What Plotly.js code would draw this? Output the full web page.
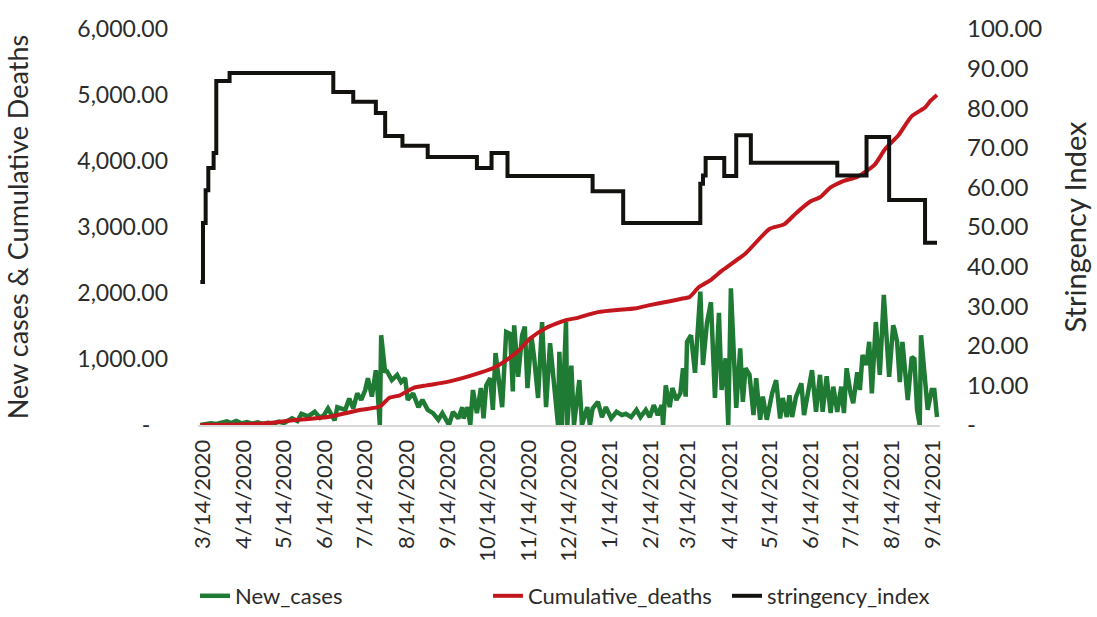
<!DOCTYPE html>
<html>
<head>
<meta charset="utf-8">
<script src="https://cdn.plot.ly/plotly-3.0.1.min.js"></script>
<style>
html,body{margin:0;padding:0;background:#fff;}
#chart{width:1097px;height:617px;}
</style>
</head>
<body>
<div id="chart"></div>
<script>
const caseDates = ['2020-03-12','2020-03-16','2020-03-20','2020-03-24','2020-03-28','2020-04-01','2020-04-04','2020-04-08','2020-04-12','2020-04-16','2020-04-20','2020-04-24','2020-04-28','2020-05-02','2020-05-06','2020-05-10','2020-05-14','2020-05-17','2020-05-20','2020-05-24','2020-05-27','2020-06-01','2020-06-06','2020-06-10','2020-06-13','2020-06-16','2020-06-21','2020-06-23','2020-06-29','2020-07-02','2020-07-05','2020-07-08','2020-07-11','2020-07-14','2020-07-16','2020-07-19','2020-07-22','2020-07-23','2020-07-25','2020-07-26','2020-07-29','2020-07-30','2020-08-03','2020-08-07','2020-08-10','2020-08-13','2020-08-15','2020-08-19','2020-08-23','2020-08-26','2020-08-30','2020-09-03','2020-09-07','2020-09-10','2020-09-15','2020-09-18','2020-09-22','2020-09-25','2020-09-26','2020-09-29','2020-10-01','2020-10-03','2020-10-06','2020-10-09','2020-10-11','2020-10-13','2020-10-16','2020-10-18','2020-10-20','2020-10-25','2020-10-28','2020-10-31','2020-11-02','2020-11-03','2020-11-06','2020-11-09','2020-11-11','2020-11-13','2020-11-16','2020-11-18','2020-11-21','2020-11-24','2020-11-27','2020-11-30','2020-12-03','2020-12-06','2020-12-07','2020-12-09','2020-12-12','2020-12-13','2020-12-16','2020-12-18','2020-12-22','2020-12-24','2020-12-28','2020-12-30','2021-01-01','2021-01-05','2021-01-08','2021-01-11','2021-01-15','2021-01-19','2021-01-23','2021-01-26','2021-01-30','2021-02-03','2021-02-06','2021-02-10','2021-02-13','2021-02-16','2021-02-19','2021-02-22','2021-02-23','2021-02-25','2021-02-28','2021-03-02','2021-03-05','2021-03-08','2021-03-10','2021-03-12','2021-03-13','2021-03-16','2021-03-19','2021-03-21','2021-03-23','2021-03-25','2021-03-28','2021-03-31','2021-04-03','2021-04-06','2021-04-08','2021-04-11','2021-04-13','2021-04-15','2021-04-17','2021-04-19','2021-04-22','2021-04-24','2021-04-26','2021-04-29','2021-05-02','2021-05-04','2021-05-07','2021-05-09','2021-05-12','2021-05-16','2021-05-19','2021-05-22','2021-05-24','2021-05-27','2021-05-29','2021-05-31','2021-06-03','2021-06-07','2021-06-09','2021-06-12','2021-06-15','2021-06-18','2021-06-21','2021-06-23','2021-06-26','2021-06-29','2021-07-01','2021-07-04','2021-07-07','2021-07-09','2021-07-11','2021-07-14','2021-07-16','2021-07-19','2021-07-21','2021-07-23','2021-07-26','2021-07-28','2021-07-30','2021-08-02','2021-08-05','2021-08-08','2021-08-10','2021-08-12','2021-08-15','2021-08-16','2021-08-18','2021-08-20','2021-08-22','2021-08-24','2021-08-26','2021-08-29','2021-08-31','2021-09-02','2021-09-04','2021-09-05','2021-09-08','2021-09-10','2021-09-13','2021-09-15','2021-09-17'];
const newCases = [0,10,25,15,40,55,30,60,25,45,20,40,15,35,20,50,30,70,100,60,170,130,200,110,150,250,70,270,230,400,250,480,380,530,710,430,830,600,0,1360,790,830,680,760,650,710,380,480,270,380,230,180,80,180,0,200,100,270,100,270,0,530,180,560,100,600,710,230,1090,270,1410,1380,510,1510,730,1360,1490,560,1340,1030,410,1560,270,1240,680,0,1110,0,1560,0,900,0,680,0,270,0,250,350,120,270,100,200,150,170,120,230,120,230,120,300,150,300,0,600,270,560,380,480,860,430,1260,1360,790,1550,2020,910,1550,1860,410,1700,530,1010,0,2070,980,260,1160,350,860,760,150,710,80,430,80,480,680,100,410,120,450,120,430,630,150,480,830,200,760,200,740,180,580,200,580,180,860,480,330,800,530,1060,910,1260,480,1560,760,1970,1240,730,1510,1450,1260,650,1260,830,380,1030,1000,230,0,1360,680,230,530,530,120];

const deathDates = ['2020-03-12','2020-04-14','2020-05-03','2020-05-22','2020-06-16','2020-07-11','2020-07-25','2020-08-01','2020-08-09','2020-08-19','2020-08-29','2020-09-13','2020-09-25','2020-10-08','2020-10-18','2020-10-28','2020-11-07','2020-11-15','2020-11-27','2020-12-12','2020-12-20','2021-01-05','2021-02-03','2021-02-14','2021-02-24','2021-03-11','2021-03-15','2021-03-22','2021-03-31','2021-04-09','2021-04-26','2021-05-14','2021-05-25','2021-06-03','2021-06-14','2021-06-21','2021-06-29','2021-07-09','2021-07-19','2021-08-01','2021-08-09','2021-08-19','2021-08-29','2021-09-08','2021-09-12','2021-09-17'];
const cumulativeDeaths = [0,10,30,75,120,230,280,410,450,560,600,650,710,790,860,980,1140,1310,1470,1590,1620,1710,1770,1820,1860,1920,1940,2090,2200,2350,2600,2970,3040,3210,3390,3450,3600,3700,3760,3940,4180,4390,4680,4810,4910,5000];

const stringencyDates = ['2020-03-12','2020-03-14','2020-03-16','2020-03-18','2020-03-22','2020-03-24','2020-04-03','2020-06-20','2020-07-05','2020-07-22','2020-07-29','2020-08-11','2020-08-30','2020-10-06','2020-10-17','2020-10-29','2021-01-01','2021-01-24','2021-03-23','2021-03-25','2021-03-27','2021-04-10','2021-04-19','2021-04-30','2021-07-04','2021-07-26','2021-08-12','2021-09-08','2021-09-17'];
const stringencyIndex = [36.1,51,59.3,64.9,68.7,86.9,88.9,84.1,81.6,78.8,73,70.5,67.7,64.9,68.7,62.9,59,51,60.9,63,67.4,62.9,73.2,66.2,63,72.7,56.8,46,46];

const tickDates = ['2020-03-14','2020-04-14','2020-05-14','2020-06-14','2020-07-14','2020-08-14','2020-09-14','2020-10-14','2020-11-14','2020-12-14','2021-01-14','2021-02-14','2021-03-14','2021-04-14','2021-05-14','2021-06-14','2021-07-14','2021-08-14','2021-09-14'];
const tickLabels = ['3/14/2020','4/14/2020','5/14/2020','6/14/2020','7/14/2020','8/14/2020','9/14/2020','10/14/2020','11/14/2020','12/14/2020','1/14/2021','2/14/2021','3/14/2021','4/14/2021','5/14/2021','6/14/2021','7/14/2021','8/14/2021','9/14/2021'];
const leftTicks = [0,1000,2000,3000,4000,5000,6000];
const leftTickText = ['-\u00a0\u00a0\u00a0','1,000.00','2,000.00','3,000.00','4,000.00','5,000.00','6,000.00'];
const rightTicks = [0,10,20,30,40,50,60,70,80,90,100];
const rightTickText = ['-','10.00','20.00','30.00','40.00','50.00','60.00','70.00','80.00','90.00','100.00'];

const FONT = 'Lato, "Open Sans", sans-serif';
const TXT = '#2b2b2b';

const traces = [
  {x: caseDates, y: newCases, name: 'New_cases', type: 'scatter', mode: 'lines',
   line: {color: '#1f7a34', width: 4.5}, yaxis: 'y', legend: 'legend'},
  {x: deathDates, y: cumulativeDeaths, name: 'Cumulative_deaths', type: 'scatter', mode: 'lines',
   line: {color: '#c4171d', width: 4, shape: 'spline', smoothing: 0.6}, yaxis: 'y', legend: 'legend2'},
  {x: stringencyDates, y: stringencyIndex, name: 'stringency_index', type: 'scatter', mode: 'lines',
   line: {color: '#14120f', width: 4, shape: 'hv'}, yaxis: 'y2', legend: 'legend3'}
];

function legendAt(xpx) {
  return {orientation: 'h', xref: 'container', yref: 'container',
          x: xpx / 1097, xanchor: 'left', y: 0, yanchor: 'bottom',
          bgcolor: 'rgba(0,0,0,0)', borderwidth: 0,
          font: {family: FONT, size: 22, color: TXT}};
}

const layout = {
  width: 1097, height: 617,
  margin: {l: 198, r: 157, t: 29, b: 192},
  paper_bgcolor: '#ffffff', plot_bgcolor: '#ffffff',
  font: {family: FONT, color: TXT, size: 22},
  showlegend: true,
  legend: legendAt(195),
  legend2: legendAt(488),
  legend3: legendAt(727),
  xaxis: {type: 'date', range: ['2020-03-10 06:00', '2021-09-19 06:00'],
          tickvals: tickDates, ticktext: tickLabels, tickangle: -90,
          tickfont: {family: FONT, size: 22, color: TXT},
          showgrid: false, zeroline: false, showline: true, linecolor: '#d9d9d9', linewidth: 2,
          ticks: '', ticklabelstandoff: 4},
  yaxis: {range: [0, 6000], tickvals: leftTicks, ticktext: leftTickText,
          tickfont: {family: FONT, size: 23, color: TXT},
          showgrid: false, zeroline: false, showline: false, ticks: '',
          ticklabelstandoff: 29,
          title: {text: 'New cases & Cumulative Deaths', font: {family: FONT, size: 27, color: TXT}, standoff: 40}},
  yaxis2: {range: [0, 100], overlaying: 'y', side: 'right', tickvals: rightTicks, ticktext: rightTickText,
           tickfont: {family: FONT, size: 24, color: TXT},
           showgrid: false, zeroline: false, showline: false, ticks: '',
           ticklabelstandoff: 26,
           title: {text: 'Stringency Index', font: {family: FONT, size: 29, color: TXT}, standoff: 24}}
};

Plotly.newPlot('chart', traces, layout, {displayModeBar: false, staticPlot: true});
</script>
</body>
</html>
